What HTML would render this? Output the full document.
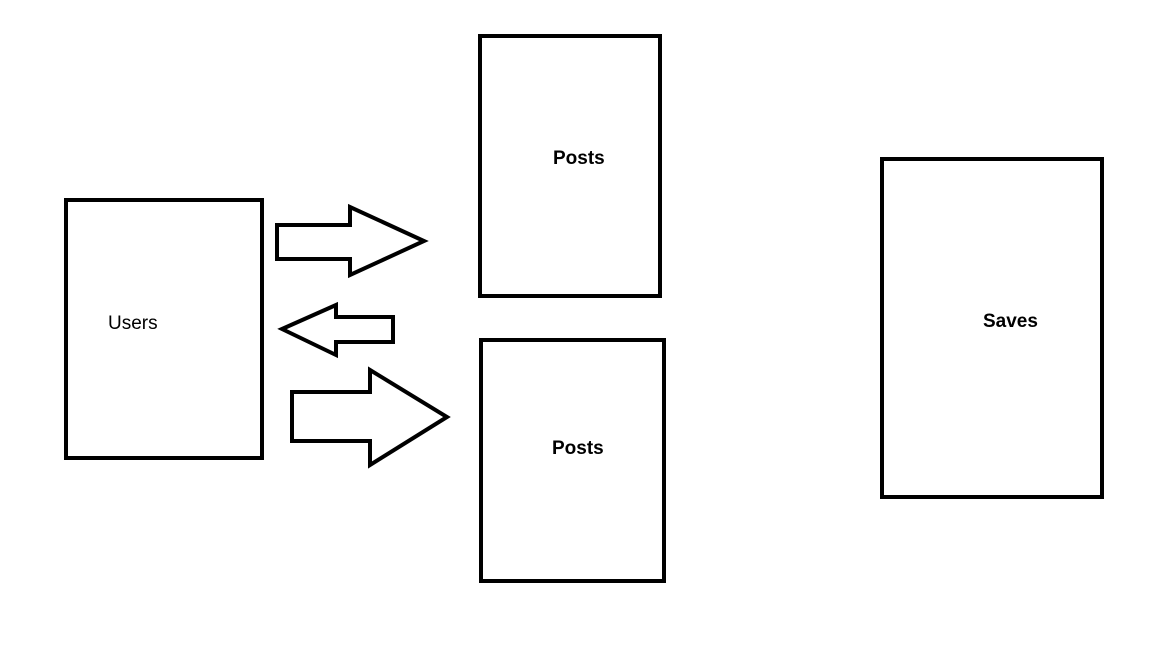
<!DOCTYPE html>
<html><head><style>
body{margin:0;width:1152px;height:648px;background:#fff;overflow:hidden}
</style></head><body>
<svg width="1152" height="648" xmlns="http://www.w3.org/2000/svg" style="display:block">
<g fill="none" stroke="#000" stroke-width="4" stroke-linejoin="miter">
<rect x="66" y="200" width="196" height="258"/>
<rect x="480" y="36" width="180" height="260"/>
<rect x="481" y="340" width="183" height="241"/>
<rect x="882" y="159" width="220" height="338"/>
<polygon points="277,225 350,225 350,207 424,241 350,275 350,259 277,259"/>
<polygon points="282,329 336,305 336,317 393,317 393,342 336,342 336,355"/>
<polygon points="292,392 370,392 370,370 447,417 370,465 370,441 292,441"/>
</g>
<g font-family="Liberation Sans, sans-serif" font-size="19">
<text x="108" y="329">Users</text>
<text x="553" y="164" font-weight="bold">Posts</text>
<text x="552" y="454" font-weight="bold">Posts</text>
<text x="983" y="327" font-weight="bold">Saves</text>
</g>
</svg>
</body></html>
